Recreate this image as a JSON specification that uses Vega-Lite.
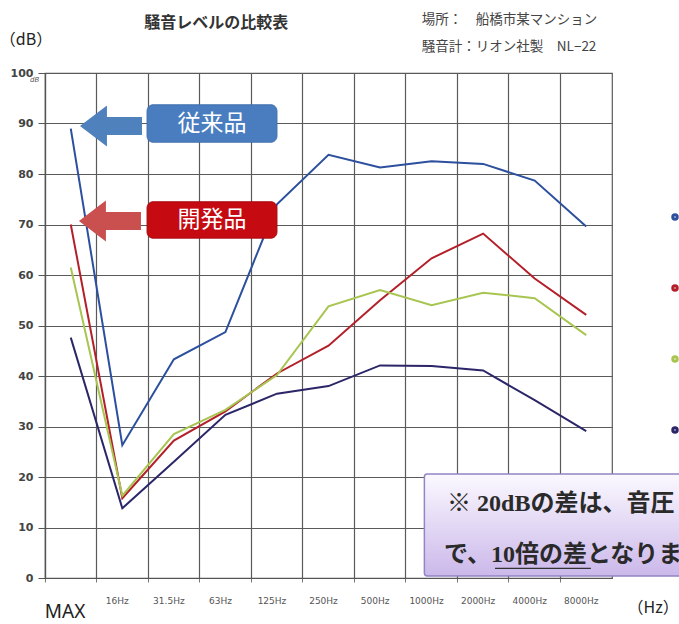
{
  "$schema": "https://vega.github.io/schema/vega-lite/v6.json",
  "width": 567,
  "height": 505,
  "autosize": {"type": "none"},
  "padding": {"left": 45, "top": 73, "right": 67, "bottom": 46},
  "background": "white",
  "config": {"view": {"stroke": "#5a5a5a", "strokeWidth": 1.2}, "font": "DejaVu Sans"},
  "datasets": {
    "levels": [
      {"series": "従来品", "freq": "MAX", "db": 89},
      {"series": "従来品", "freq": "16Hz", "db": 26.3},
      {"series": "従来品", "freq": "31.5Hz", "db": 43.3},
      {"series": "従来品", "freq": "63Hz", "db": 48.7},
      {"series": "従来品", "freq": "125Hz", "db": 74},
      {"series": "従来品", "freq": "250Hz", "db": 83.8},
      {"series": "従来品", "freq": "500Hz", "db": 81.3},
      {"series": "従来品", "freq": "1000Hz", "db": 82.5},
      {"series": "従来品", "freq": "2000Hz", "db": 82},
      {"series": "従来品", "freq": "4000Hz", "db": 78.7},
      {"series": "従来品", "freq": "8000Hz", "db": 69.6},
      {"series": "開発品", "freq": "MAX", "db": 70},
      {"series": "開発品", "freq": "16Hz", "db": 15.8},
      {"series": "開発品", "freq": "31.5Hz", "db": 27.2},
      {"series": "開発品", "freq": "63Hz", "db": 33},
      {"series": "開発品", "freq": "125Hz", "db": 40.5},
      {"series": "開発品", "freq": "250Hz", "db": 46},
      {"series": "開発品", "freq": "500Hz", "db": 55},
      {"series": "開発品", "freq": "1000Hz", "db": 63.3},
      {"series": "開発品", "freq": "2000Hz", "db": 68.2},
      {"series": "開発品", "freq": "4000Hz", "db": 59.3},
      {"series": "開発品", "freq": "8000Hz", "db": 52.1},
      {"series": "比較品A", "freq": "MAX", "db": 61.5},
      {"series": "比較品A", "freq": "16Hz", "db": 16.3},
      {"series": "比較品A", "freq": "31.5Hz", "db": 28.5},
      {"series": "比較品A", "freq": "63Hz", "db": 33.3},
      {"series": "比較品A", "freq": "125Hz", "db": 40.2},
      {"series": "比較品A", "freq": "250Hz", "db": 53.8},
      {"series": "比較品A", "freq": "500Hz", "db": 57},
      {"series": "比較品A", "freq": "1000Hz", "db": 54},
      {"series": "比較品A", "freq": "2000Hz", "db": 56.5},
      {"series": "比較品A", "freq": "4000Hz", "db": 55.4},
      {"series": "比較品A", "freq": "8000Hz", "db": 48.1},
      {"series": "比較品B", "freq": "MAX", "db": 47.6},
      {"series": "比較品B", "freq": "16Hz", "db": 13.8},
      {"series": "比較品B", "freq": "31.5Hz", "db": 23},
      {"series": "比較品B", "freq": "63Hz", "db": 32.3},
      {"series": "比較品B", "freq": "125Hz", "db": 36.5},
      {"series": "比較品B", "freq": "250Hz", "db": 38},
      {"series": "比較品B", "freq": "500Hz", "db": 42.1},
      {"series": "比較品B", "freq": "1000Hz", "db": 42},
      {"series": "比較品B", "freq": "2000Hz", "db": 41.1},
      {"series": "比較品B", "freq": "4000Hz", "db": 35.2},
      {"series": "比較品B", "freq": "8000Hz", "db": 29.1}
    ]
  },
  "layer": [
    {
      "data": {"name": "levels"},
      "mark": {"type": "line", "strokeWidth": 2},
      "encoding": {
        "x": {
          "field": "freq", "type": "ordinal",
          "sort": ["MAX", "16Hz", "31.5Hz", "63Hz", "125Hz", "250Hz", "500Hz", "1000Hz", "2000Hz", "4000Hz", "8000Hz"],
          "bandPosition": 0.5,
          "scale": {"type": "band", "paddingInner": 0, "paddingOuter": 0},
          "axis": {
            "title": null, "bandPosition": 0, "grid": true, "gridColor": "#5a5a5a", "gridWidth": 1.2, "gridOpacity": 1,
            "labelExpr": "datum.value == 'MAX' ? '' : datum.value",
            "labelOffset": -5, "labelAngle": 0, "labelFontSize": 9, "labelColor": "#555", "labelPadding": 14,
            "tickSize": 4, "tickColor": "#777", "domainColor": "#555", "domainWidth": 1.2
          }
        },
        "y": {
          "field": "db", "type": "quantitative",
          "scale": {"domain": [0, 100], "nice": false},
          "axis": {
            "title": null, "values": [0, 10, 20, 30, 40, 50, 60, 70, 80, 90, 100],
            "grid": true, "gridColor": "#5a5a5a", "gridWidth": 1.2, "gridOpacity": 1,
            "tickSize": 7, "tickColor": "#555", "domainColor": "#555", "domainWidth": 1.2,
            "labelFontSize": 11, "labelFontWeight": "bold", "labelColor": "#444", "labelPadding": 5
          }
        },
        "color": {
          "field": "series", "type": "nominal",
          "scale": {"domain": ["従来品", "開発品", "比較品A", "比較品B"], "range": ["#2c4f9e", "#b3202a", "#a8c552", "#2b2668"]},
          "legend": {
            "orient": "none", "legendX": 624, "legendY": 138, "title": null,
            "symbolType": "circle", "symbolSize": 20, "symbolStrokeWidth": 3,
            "labelFontSize": 12, "rowPadding": 53, "padding": 0, "labelColor": "#333"
          }
        },
        "order": {"value": null}
      }
    },
    {
      "layer": [
        {
          "data": {"values": [{"ax": 7.36, "ax2": 12.6, "ay": 20.6, "ay2": 0.4}]},
          "mark": {
            "type": "rect", "cornerRadius": 3, "stroke": "#9384c4", "strokeWidth": 1.5,
            "fill": {"gradient": "linear", "x1": 0, "y1": 0, "x2": 0, "y2": 1,
              "stops": [{"offset": 0, "color": "#fbf9ff"}, {"offset": 1, "color": "#cbb8ea"}]}
          },
          "encoding": {
            "x": {"field": "ax", "type": "quantitative", "scale": {"domain": [0, 11], "nice": false, "zero": false}, "axis": null},
            "x2": {"field": "ax2"},
            "y": {"field": "ay", "type": "quantitative", "scale": {"domain": [0, 100], "nice": false}},
            "y2": {"field": "ay2"}
          }
        },
        {
          "data": {"values": [{"ax": 8.73, "ax2": 10.59, "ay": 1.9}]},
          "mark": {"type": "rule", "stroke": "#333", "strokeWidth": 1.3},
          "encoding": {
            "x": {"field": "ax", "type": "quantitative", "scale": {"domain": [0, 11], "nice": false, "zero": false}, "axis": null},
            "x2": {"field": "ax2"},
            "y": {"field": "ay", "type": "quantitative", "scale": {"domain": [0, 100], "nice": false}}
          }
        },
        {
          "data": {"values": [
            {"ax": 7.8, "ay": 14.65, "text": "※ 20dBの差は、音圧"},
            {"ax": 7.74, "ay": 4.55, "text": "で、10倍の差となります。"}
          ]},
          "mark": {"type": "text", "align": "left", "baseline": "middle", "font": "Liberation Serif, Noto Sans CJK JP", "fontWeight": "bold", "fontSize": 24, "color": "#2a2a2a"},
          "encoding": {
            "x": {"field": "ax", "type": "quantitative", "scale": {"domain": [0, 11], "nice": false, "zero": false}, "axis": null},
            "y": {"field": "ay", "type": "quantitative", "scale": {"domain": [0, 100], "nice": false}},
            "text": {"field": "text"}
          }
        },
        {
          "data": {"values": [{"ax": 1.28, "ay": 89.5}]},
          "mark": {"type": "point", "filled": true, "opacity": 1, "color": "#4f81bd", "size": 3844,
            "shape": "M -1 0 L -0.13 -0.66 L -0.13 -0.29 L 1 -0.29 L 1 0.29 L -0.13 0.29 L -0.13 0.66 Z"},
          "encoding": {
            "x": {"field": "ax", "type": "quantitative", "scale": {"domain": [0, 11], "nice": false, "zero": false}, "axis": null},
            "y": {"field": "ay", "type": "quantitative", "scale": {"domain": [0, 100], "nice": false}}
          }
        },
        {
          "data": {"values": [{"ax": 1.26, "ay": 70.7}]},
          "mark": {"type": "point", "filled": true, "opacity": 1, "color": "#c9504e", "size": 3844,
            "shape": "M -1 0 L -0.13 -0.66 L -0.13 -0.29 L 1 -0.29 L 1 0.29 L -0.13 0.29 L -0.13 0.66 Z"},
          "encoding": {
            "x": {"field": "ax", "type": "quantitative", "scale": {"domain": [0, 11], "nice": false, "zero": false}, "axis": null},
            "y": {"field": "ay", "type": "quantitative", "scale": {"domain": [0, 100], "nice": false}}
          }
        },
        {
          "data": {"values": [{"ax": 1.98, "ax2": 4.5, "ay": 93.7, "ay2": 86.3}]},
          "mark": {"type": "rect", "cornerRadius": 6, "fill": "#4a7dbf", "stroke": "#3f6fae", "strokeWidth": 1},
          "encoding": {
            "x": {"field": "ax", "type": "quantitative", "scale": {"domain": [0, 11], "nice": false, "zero": false}, "axis": null},
            "x2": {"field": "ax2"},
            "y": {"field": "ay", "type": "quantitative", "scale": {"domain": [0, 100], "nice": false}},
            "y2": {"field": "ay2"}
          }
        },
        {
          "data": {"values": [{"ax": 1.98, "ax2": 4.5, "ay": 74.5, "ay2": 67.3}]},
          "mark": {"type": "rect", "cornerRadius": 6, "fill": "#c50a12", "stroke": "#a80a10", "strokeWidth": 1},
          "encoding": {
            "x": {"field": "ax", "type": "quantitative", "scale": {"domain": [0, 11], "nice": false, "zero": false}, "axis": null},
            "x2": {"field": "ax2"},
            "y": {"field": "ay", "type": "quantitative", "scale": {"domain": [0, 100], "nice": false}},
            "y2": {"field": "ay2"}
          }
        },
        {
          "data": {"values": [
            {"ax": 3.24, "ay": 90.0, "text": "従来品"},
            {"ax": 3.24, "ay": 70.9, "text": "開発品"}
          ]},
          "mark": {"type": "text", "align": "center", "baseline": "middle", "font": "Noto Sans CJK JP", "fontSize": 23, "color": "white"},
          "encoding": {
            "x": {"field": "ax", "type": "quantitative", "scale": {"domain": [0, 11], "nice": false, "zero": false}, "axis": null},
            "y": {"field": "ay", "type": "quantitative", "scale": {"domain": [0, 100], "nice": false}},
            "text": {"field": "text"}
          }
        },
        {
          "data": {"values": [{"ax": 3.32, "ay": 110.0, "text": "騒音レベルの比較表"}]},
          "mark": {"type": "text", "align": "center", "baseline": "middle", "font": "Noto Sans CJK JP", "fontWeight": "bold", "fontSize": 16, "color": "#333"},
          "encoding": {
            "x": {"field": "ax", "type": "quantitative", "scale": {"domain": [0, 11], "nice": false, "zero": false}, "axis": null},
            "y": {"field": "ay", "type": "quantitative", "scale": {"domain": [0, 100], "nice": false}},
            "text": {"field": "text"}
          }
        },
        {
          "data": {"values": [
            {"ax": 7.31, "ay": 110.5, "text": "場所：　船橋市某マンション"},
            {"ax": 7.31, "ay": 105.1, "text": "騒音計：リオン社製　NL−22"}
          ]},
          "mark": {"type": "text", "align": "left", "baseline": "middle", "font": "Noto Sans CJK JP", "fontSize": 13.5, "color": "#444"},
          "encoding": {
            "x": {"field": "ax", "type": "quantitative", "scale": {"domain": [0, 11], "nice": false, "zero": false}, "axis": null},
            "y": {"field": "ay", "type": "quantitative", "scale": {"domain": [0, 100], "nice": false}},
            "text": {"field": "text"}
          }
        },
        {
          "data": {"values": [
            {"ax": -0.37, "ay": 106.5, "text": "（dB）"},
            {"ax": 11.8, "ay": -5.9, "text": "（Hz）"}
          ]},
          "mark": {"type": "text", "align": "center", "baseline": "middle", "font": "Noto Sans CJK JP", "fontSize": 16, "color": "#222"},
          "encoding": {
            "x": {"field": "ax", "type": "quantitative", "scale": {"domain": [0, 11], "nice": false, "zero": false}, "axis": null},
            "y": {"field": "ay", "type": "quantitative", "scale": {"domain": [0, 100], "nice": false}},
            "text": {"field": "text"}
          }
        },
        {
          "data": {"values": [{"ax": 0.39, "ay": -6.7, "text": "MAX"}]},
          "mark": {"type": "text", "align": "center", "baseline": "middle", "font": "Noto Sans", "fontSize": 19, "color": "#222"},
          "encoding": {
            "x": {"field": "ax", "type": "quantitative", "scale": {"domain": [0, 11], "nice": false, "zero": false}, "axis": null},
            "y": {"field": "ay", "type": "quantitative", "scale": {"domain": [0, 100], "nice": false}},
            "text": {"field": "text"}
          }
        },
        {
          "data": {"values": [{"ax": -0.2, "ay": 98.6, "text": "dB"}]},
          "mark": {"type": "text", "align": "center", "baseline": "middle", "fontSize": 7, "fontStyle": "italic", "color": "#555"},
          "encoding": {
            "x": {"field": "ax", "type": "quantitative", "scale": {"domain": [0, 11], "nice": false, "zero": false}, "axis": null},
            "y": {"field": "ay", "type": "quantitative", "scale": {"domain": [0, 100], "nice": false}},
            "text": {"field": "text"}
          }
        }
      ]
    }
  ],
  "resolve": {"scale": {"x": "independent"}}
}
